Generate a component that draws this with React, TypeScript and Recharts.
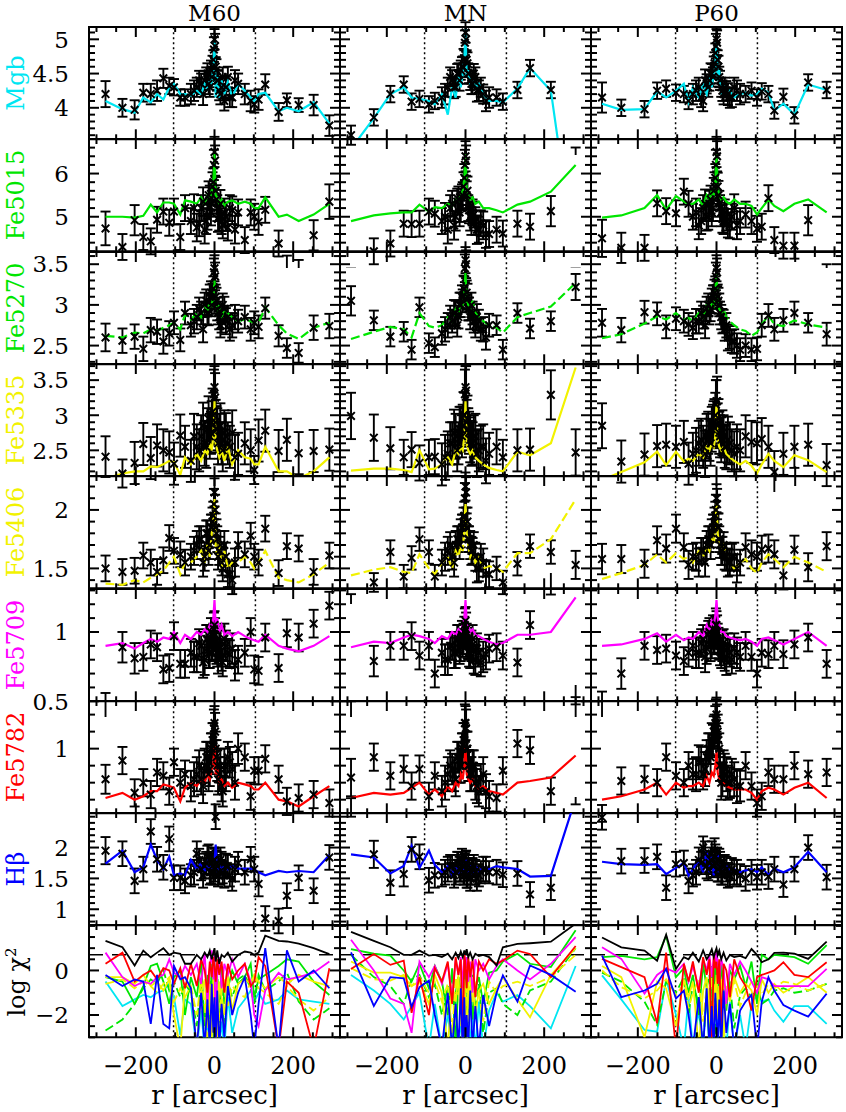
import React from 'react'
import { ComposedChart, Scatter, Line, XAxis, YAxis, ErrorBar, ReferenceLine, ReferenceArea } from 'recharts'

// page layout, in pixels
const X0 = 89
const Y0 = 27
const PW = 251
const PH = 112.3
const M = 16
const LABEL_H = 75

const X_DOMAIN = [-319, 319]
const X_TICKS = [-300, -250, -200, -150, -100, -50, 0, 50, 100, 150, 200, 250, 300]
const X_LABELS = [-200, 0, 200]
const R_EFF = 104

const MODELS = ['M60', 'MN', 'P60']
const ROW_NAMES = ['Mgb', 'Fe5015', 'Fe5270', 'Fe5335', 'Fe5406', 'Fe5709', 'Fe5782', 'Hβ']
const ROW_COLORS = ['#00e6f2', '#00e600', '#00e600', '#f2f200', '#f2f200', '#ff00ff', '#ff0000', '#0000ff']
const ROW_DASHED = [false, false, true, false, true, false, false, false]

const Y_LO = [3.54, 4.2, 2.27, 2.13, 1.33, 0.5, 0.62, 0.74, -3]
const Y_HI = [5.18, 6.8, 3.65, 3.73, 2.29, 1.31, 1.28, 2.56, 2.04]
const Y_MINOR = [0.1, 0.2, 0.1, 0.1, 0.1, 0.1, 0.1, 0.1, 0.5]
const Y_LABELS = [[4, 4.5, 5], [5, 6], [2.5, 3, 3.5], [2.5, 3, 3.5], [1.5, 2], [0.5, 1], [1], [1, 1.5, 2], [-2, 0]]
const CHI_LEVEL = 0.7

// extra bins packed into the nucleus (same radii in every column)
const CORE_R = [-52, -39, -29, -21, -15, -9, -5, -1.5, 1.5, 5, 9, 15, 21, 29, 39, 52]
const CORE_ERR_MGB = [0.15, 0.14, 0.16, 0.14, 0.15, 0.14, 0.16, 0.18, 0.18, 0.16, 0.14, 0.15, 0.14, 0.16, 0.14, 0.15]
const CORE_ERR_FE5015 = [0.32, 0.3, 0.33, 0.3, 0.32, 0.3, 0.33, 0.35, 0.35, 0.33, 0.3, 0.32, 0.3, 0.33, 0.3, 0.32]
const CORE_ERR_FE5270 = [0.15, 0.14, 0.16, 0.14, 0.15, 0.14, 0.16, 0.17, 0.17, 0.16, 0.14, 0.15, 0.14, 0.16, 0.14, 0.15]
const CORE_ERR_FE5335 = [0.32, 0.3, 0.33, 0.3, 0.32, 0.3, 0.33, 0.35, 0.35, 0.33, 0.3, 0.32, 0.3, 0.33, 0.3, 0.32]
const CORE_ERR_FE5406 = [0.12, 0.11, 0.12, 0.11, 0.12, 0.11, 0.12, 0.13, 0.13, 0.12, 0.11, 0.12, 0.11, 0.12, 0.11, 0.12]
const CORE_ERR_FE5709 = [0.11, 0.1, 0.11, 0.1, 0.11, 0.1, 0.11, 0.12, 0.12, 0.11, 0.1, 0.11, 0.1, 0.11, 0.1, 0.11]
const CORE_ERR_FE5782 = [0.1, 0.09, 0.1, 0.09, 0.1, 0.09, 0.1, 0.11, 0.11, 0.1, 0.09, 0.1, 0.09, 0.1, 0.09, 0.1]
const CORE_ERR_HB = [0.2, 0.18, 0.2, 0.18, 0.2, 0.18, 0.2, 0.2, 0.2, 0.2, 0.18, 0.2, 0.18, 0.2, 0.18, 0.2]
const CORE_ERR = [CORE_ERR_MGB, CORE_ERR_FE5015, CORE_ERR_FE5270, CORE_ERR_FE5335, CORE_ERR_FE5406, CORE_ERR_FE5709, CORE_ERR_FE5782, CORE_ERR_HB]

// ---------- M60 ----------
const M60_R = [-277, -234, -203, -181, -162, -146, -130, -115, -103, -87, -75, -60, -45, -34, -25, -18, -12, -7, -3, 0, 3, 7, 12, 18, 25, 34, 45, 60, 77, 92, 101, 112, 129, 163, 184, 214, 252, 292]

const M60_MGB = [4.2, 4.0, 3.97, 4.22, 4.2, 4.25, 4.43, 4.32, 4.3, 4.15, 4.15, 4.2, 4.3, 4.35, 4.4, 4.5, 4.3, 4.45, 4.7, 5.0, 4.6, 4.4, 4.25, 4.3, 4.1, 4.45, 4.15, 4.35, 4.2, 4.1, 4.05, 4.12, 4.34, 3.94, 4.11, 4.04, 4.04, 3.74]
const M60_MGB_ERR = [0.19, 0.13, 0.14, 0.13, 0.15, 0.15, 0.14, 0.12, 0.12, 0.12, 0.12, 0.15, 0.14, 0.15, 0.14, 0.15, 0.14, 0.15, 0.14, 0.15, 0.14, 0.15, 0.14, 0.15, 0.14, 0.15, 0.14, 0.15, 0.15, 0.15, 0.12, 0.15, 0.15, 0.13, 0.1, 0.1, 0.15, 0.15]
const M60_MGB_FIT = [4.1, 3.98, 3.93, 4.15, 4.08, 4.2, 4.12, 4.3, 4.35, 4.2, 4.2, 4.18, 4.25, 4.2, 4.35, 4.28, 4.4, 4.35, 4.6, 4.95, 4.15, 4.45, 4.15, 4.4, 4.2, 4.38, 4.15, 4.35, 4.25, 4.15, 4.1, 4.2, 4.22, 3.95, 4.0, 3.95, 4.08, 3.77]

const M60_FE5015 = [4.73, 4.3, 4.92, 4.53, 4.43, 4.93, 5.12, 4.86, 5.12, 4.53, 5.2, 4.9, 4.75, 5.2, 4.7, 5.0, 5.4, 5.3, 5.8, 6.5, 5.6, 5.2, 5.0, 4.9, 5.1, 4.75, 5.15, 5.1, 4.46, 5.1, 5.0, 4.88, 5.16, 4.38, 3.8, 3.7, 4.57, 5.35]
const M60_FE5015_ERR = [0.39, 0.3, 0.35, 0.3, 0.3, 0.3, 0.3, 0.3, 0.3, 0.3, 0.3, 0.3, 0.32, 0.3, 0.32, 0.3, 0.32, 0.3, 0.32, 0.35, 0.32, 0.3, 0.32, 0.3, 0.32, 0.3, 0.32, 0.3, 0.3, 0.3, 0.3, 0.3, 0.3, 0.3, 0.3, 0.3, 0.35, 0.4]
const M60_FE5015_FIT = [5.0, 5.0, 4.98, 5.02, 5.28, 5.1, 5.33, 5.33, 5.3, 5.05, 5.38, 5.35, 5.3, 5.45, 5.3, 5.5, 5.4, 5.6, 5.8, 6.45, 5.5, 5.45, 5.3, 5.4, 5.25, 5.35, 5.38, 5.3, 5.35, 5.3, 5.2, 5.2, 5.45, 5.0, 5.05, 4.9, 5.05, 5.3]

const M60_FE5270 = [2.6, 2.56, 2.61, 2.46, 2.69, 2.67, 2.55, 2.65, 2.78, 2.57, 2.9, 2.75, 2.85, 2.9, 3.0, 2.9, 3.1, 3.0, 3.2, 3.45, 3.1, 2.95, 2.85, 2.8, 2.95, 2.85, 2.75, 2.8, 2.85, 2.7, 2.78, 2.73, 2.96, 2.62, 2.47, 2.41, 2.72, 2.74]
const M60_FE5270_ERR = [0.17, 0.15, 0.15, 0.15, 0.15, 0.15, 0.15, 0.15, 0.14, 0.14, 0.14, 0.14, 0.15, 0.14, 0.15, 0.14, 0.15, 0.14, 0.15, 0.16, 0.15, 0.14, 0.15, 0.14, 0.15, 0.14, 0.15, 0.14, 0.14, 0.14, 0.14, 0.14, 0.13, 0.13, 0.12, 0.12, 0.15, 0.15]
const M60_FE5270_FIT = [2.62, 2.6, 2.66, 2.65, 2.7, 2.68, 2.72, 2.75, 2.78, 2.7, 2.88, 2.82, 2.9, 2.85, 3.0, 2.9, 3.05, 3.0, 3.1, 3.3, 3.0, 2.9, 3.0, 2.85, 2.95, 2.9, 2.85, 2.8, 2.82, 2.8, 2.78, 2.78, 2.97, 2.75, 2.65, 2.58, 2.72, 2.78]

const M60_FE5335 = [2.41, 2.17, 2.32, 2.59, 2.39, 2.57, 2.5, 2.47, 2.31, 2.71, 2.55, 2.35, 2.55, 2.7, 2.6, 2.8, 2.7, 2.9, 3.0, 3.4, 2.9, 2.8, 2.7, 2.6, 2.75, 2.6, 2.75, 2.45, 2.6, 2.5, 2.22, 2.64, 2.78, 2.49, 2.65, 2.46, 2.49, 2.51]
const M60_FE5335_ERR = [0.29, 0.2, 0.3, 0.3, 0.3, 0.3, 0.3, 0.3, 0.3, 0.3, 0.3, 0.3, 0.32, 0.3, 0.32, 0.3, 0.32, 0.3, 0.32, 0.3, 0.32, 0.3, 0.32, 0.3, 0.32, 0.3, 0.32, 0.3, 0.3, 0.3, 0.2, 0.3, 0.3, 0.3, 0.3, 0.3, 0.3, 0.3]
const M60_FE5335_FIT = [2.1, 2.17, 2.2, 2.2, 2.27, 2.26, 2.3, 2.35, 2.33, 2.15, 2.4, 2.3, 2.45, 2.35, 2.5, 2.45, 2.6, 2.5, 2.7, 3.2, 2.6, 2.5, 2.4, 2.5, 2.35, 2.55, 2.3, 2.5, 2.4, 2.38, 2.3, 2.3, 2.55, 2.2, 2.2, 2.1, 2.2, 2.4]

const M60_FE5406 = [1.5, 1.47, 1.48, 1.61, 1.55, 1.47, 1.57, 1.76, 1.65, 1.62, 1.55, 1.6, 1.7, 1.75, 1.6, 1.8, 1.7, 1.85, 1.95, 2.15, 1.85, 1.75, 1.65, 1.55, 1.7, 1.45, 1.4, 1.7, 1.62, 1.78, 1.6, 1.55, 1.84, 1.46, 1.69, 1.67, 1.47, 1.61]
const M60_FE5406_ERR = [0.11, 0.11, 0.11, 0.11, 0.11, 0.11, 0.11, 0.11, 0.11, 0.11, 0.11, 0.11, 0.12, 0.11, 0.12, 0.11, 0.12, 0.11, 0.12, 0.12, 0.12, 0.11, 0.12, 0.11, 0.12, 0.11, 0.12, 0.11, 0.11, 0.11, 0.11, 0.11, 0.11, 0.11, 0.11, 0.11, 0.11, 0.11]
const M60_FE5406_FIT = [1.37, 1.36, 1.4, 1.38, 1.42, 1.45, 1.48, 1.55, 1.6, 1.45, 1.55, 1.55, 1.6, 1.65, 1.55, 1.7, 1.6, 1.8, 1.9, 2.1, 1.7, 1.6, 1.75, 1.5, 1.65, 1.5, 1.55, 1.55, 1.6, 1.55, 1.5, 1.55, 1.65, 1.42, 1.4, 1.38, 1.45, 1.55]

const M60_FE5709 = [0.45, 0.89, 0.81, 0.82, 0.91, 0.89, 0.73, 0.74, 0.97, 0.77, 0.77, 0.85, 0.82, 0.9, 0.8, 0.95, 0.85, 0.9, 0.95, 1.05, 0.9, 0.85, 0.92, 0.82, 0.95, 0.85, 0.88, 0.8, 0.85, 1.0, 0.73, 0.72, 0.96, 0.74, 0.99, 0.96, 1.06, 1.19]
const M60_FE5709_ERR = [0.11, 0.11, 0.11, 0.1, 0.1, 0.1, 0.1, 0.1, 0.1, 0.1, 0.1, 0.1, 0.11, 0.1, 0.11, 0.1, 0.11, 0.1, 0.11, 0.1, 0.11, 0.1, 0.11, 0.1, 0.11, 0.1, 0.11, 0.1, 0.1, 0.1, 0.1, 0.1, 0.1, 0.1, 0.1, 0.1, 0.1, 0.1]
const M60_FE5709_FIT = [0.9, 0.92, 0.88, 0.92, 0.95, 0.93, 0.96, 0.95, 1.0, 0.92, 0.98, 0.95, 1.0, 0.98, 1.02, 1.0, 1.05, 1.03, 1.1, 1.23, 1.05, 1.1, 1.0, 1.05, 0.98, 1.0, 0.97, 1.0, 0.97, 0.95, 0.94, 0.93, 0.98, 0.9, 0.88, 0.86, 0.9, 0.97]

const M60_FE5782 = [0.82, 0.93, 0.74, 0.8, 0.73, 0.86, 0.84, 0.75, 0.92, 0.8, 0.85, 0.78, 0.85, 0.82, 0.9, 0.95, 0.88, 1.0, 1.05, 1.15, 1.0, 0.9, 0.85, 0.78, 0.9, 0.95, 0.88, 1.0, 0.95, 0.72, 0.87, 0.87, 0.94, 0.82, 0.69, 0.71, 0.73, 0.68]
const M60_FE5782_ERR = [0.085, 0.08, 0.08, 0.08, 0.08, 0.08, 0.08, 0.08, 0.08, 0.08, 0.08, 0.09, 0.1, 0.09, 0.1, 0.09, 0.1, 0.09, 0.1, 0.1, 0.1, 0.09, 0.1, 0.09, 0.1, 0.09, 0.1, 0.09, 0.08, 0.08, 0.08, 0.08, 0.08, 0.08, 0.08, 0.08, 0.08, 0.08]
const M60_FE5782_FIT = [0.71, 0.74, 0.7, 0.72, 0.75, 0.75, 0.79, 0.78, 0.77, 0.69, 0.77, 0.8, 0.78, 0.82, 0.8, 0.85, 0.82, 0.88, 0.9, 1.02, 0.85, 0.88, 0.8, 0.82, 0.78, 0.8, 0.77, 0.8, 0.79, 0.78, 0.76, 0.76, 0.8, 0.7, 0.69, 0.66, 0.72, 0.78]

const M60_HB = [1.95, 1.9, 1.46, 1.65, 2.26, 1.81, 1.68, 2.14, 1.51, 1.51, 1.46, 1.55, 1.9, 1.65, 1.7, 1.85, 1.6, 1.75, 1.6, 1.8, 2.5, 1.7, 1.6, 1.75, 1.55, 1.7, 1.5, 1.75, 1.6, 1.81, 1.65, 1.41, 0.85, 0.81, 1.22, 1.51, 1.3, 1.84]
const M60_HB_ERR = [0.22, 0.2, 0.2, 0.2, 0.2, 0.2, 0.2, 0.2, 0.2, 0.2, 0.2, 0.18, 0.2, 0.18, 0.2, 0.18, 0.2, 0.18, 0.2, 0.18, 0.2, 0.18, 0.2, 0.18, 0.2, 0.18, 0.2, 0.18, 0.2, 0.2, 0.2, 0.2, 0.2, 0.2, 0.2, 0.2, 0.2, 0.2]
const M60_HB_FIT = [1.74, 1.95, 1.6, 1.68, 2.05, 1.8, 1.65, 1.85, 1.55, 1.58, 1.55, 1.8, 1.65, 1.75, 1.6, 1.75, 1.6, 1.75, 1.6, 1.75, 2.05, 1.6, 1.75, 1.6, 1.72, 1.65, 1.7, 1.66, 1.66, 1.66, 1.64, 1.6, 1.55, 1.62, 1.6, 1.62, 1.6, 1.88]

const M60_CORE_MGB = [4.25, 4.4, 4.2, 4.45, 4.35, 4.55, 4.6, 4.85, 4.9, 4.55, 4.4, 4.2, 4.45, 4.3, 4.15, 4.4]
const M60_CORE_FE5015 = [5.2, 4.85, 5.35, 4.9, 5.5, 5.1, 5.7, 6.2, 6.3, 5.4, 4.95, 5.3, 4.8, 5.0, 5.2, 4.7]
const M60_CORE_FE5270 = [2.8, 2.95, 2.7, 3.05, 2.9, 3.15, 3.1, 3.4, 3.35, 3.05, 2.9, 2.75, 3.0, 2.8, 2.7, 2.85]
const M60_CORE_FE5335 = [2.7, 2.5, 2.85, 2.55, 2.95, 2.75, 3.05, 3.3, 3.25, 2.8, 2.6, 2.85, 2.5, 2.7, 2.55, 2.4]
const M60_CORE_FE5406 = [1.65, 1.75, 1.55, 1.8, 1.65, 1.85, 1.9, 2.05, 2.0, 1.8, 1.6, 1.7, 1.5, 1.6, 1.45, 1.55]
const M60_CORE_FE5709 = [0.82, 0.92, 0.78, 0.95, 0.85, 1.0, 0.9, 1.02, 0.98, 0.88, 0.8, 0.93, 0.78, 0.9, 0.84, 0.76]
const M60_CORE_FE5782 = [0.82, 0.9, 0.78, 0.95, 0.85, 1.0, 1.05, 1.12, 1.1, 0.95, 0.82, 0.9, 0.75, 0.85, 0.92, 0.8]
const M60_CORE_HB = [1.6, 1.8, 1.55, 1.75, 1.85, 1.6, 1.7, 1.8, 1.65, 1.75, 1.55, 1.8, 1.6, 1.7, 1.55, 1.65]

const M60_CHI_TOT = [1.33, 1.04, 0.22, 0.89, 0.59, 0.8, 1.0, 0.7, 0.8, 0.75, 0.3, 0.3, 0.7, 0.5, 0.8, 0.6, 0.9, 0.5, 0.8, 1.0, 0.4, 0.9, 0.3, 0.7, 0.6, 0.8, 0.4, 0.7, 0.85, 0.8, 0.7, 0.8, 1.56, 1.33, 1.3, 1.2, 1.0, 0.73]
const M60_CHI_MGB = [-0.5, -1.6, -1.3, -1.1, -1.2, -1.0, -0.9, -0.6, -1.2, -2.9, -1.3, -1.5, -3.5, -1.8, -3.5, -2.2, -3.5, -1.4, -3.5, -2.0, -3.5, -1.6, -3.5, -2.3, -3.5, -1.2, -2.8, -1.7, -1.3, -0.9, -1.4, -1.0, -1.5, -1.3, -0.9, -1.3, -1.4, -1.5]
const M60_CHI_FE5015 = [-0.3, -0.5, -1.5, -0.7, 0.2, 0.3, -0.5, -1.5, -0.3, 0.0, -2.0, -0.3, -1.2, 0.4, -2.5, -0.2, -3.5, 0.3, -1.0, 0.5, -2.0, -0.5, -3.2, 0.2, -1.5, -0.8, 0.0, -0.6, -0.3, 0.3, -1.2, -0.4, -0.2, 0.2, 0.5, 0.4, -0.5, -1.1]
const M60_CHI_FE5270 = [-2.7, -2.2, -1.5, -0.8, -0.4, -0.6, 0.0, -0.9, -0.5, -1.2, -0.6, -1.0, -2.5, -0.4, -3.5, -1.2, -0.3, -2.0, -0.6, -1.0, -3.5, -0.2, -1.5, -0.8, -2.8, -0.5, -1.2, -0.4, -0.2, -0.8, -1.5, -0.2, -0.9, -0.5, -0.1, -1.4, -2.2, -1.7]
const M60_CHI_FE5335 = [-0.3, -0.3, -0.6, -0.2, -0.7, -0.5, -0.9, -0.4, -2.0, -3.5, -0.6, -0.8, -3.5, -1.0, -0.4, -2.5, -0.7, -3.5, -0.3, -1.5, -0.6, -3.2, -0.5, -1.2, -2.0, -0.2, -1.8, -0.6, -0.4, -0.6, -0.2, -0.5, -0.8, -0.3, -0.6, -0.2, -0.5, -0.7]
const M60_CHI_FE5406 = [-0.6, -0.4, -0.8, -0.5, -0.7, -1.0, -0.6, -0.3, -1.4, -0.8, -1.2, -0.7, -2.0, -0.4, -1.5, -3.5, -0.6, -1.1, -2.3, -0.5, -1.3, -0.3, -2.6, -0.9, -0.4, -1.6, -0.7, -1.0, -1.2, -0.5, -0.2, -0.8, -1.0, -1.5, -0.7, -1.3, -1.8, -1.2]
const M60_CHI_FE5709 = [0.8, -0.3, -0.7, -0.5, -0.6, -0.3, -0.2, 0.5, -0.1, -0.3, 0.2, -0.2, 0.3, -0.6, 0.8, -1.5, 0.1, 0.9, -0.4, 0.7, -3.5, 0.2, 0.6, -0.8, 0.3, -0.2, 0.5, -0.3, 0.3, -0.5, -2.0, -2.5, -0.9, -0.1, -0.4, -0.3, -0.1, 0.4]
const M60_CHI_FE5782 = [0.3, 0.8, -0.5, -0.2, 0.0, -0.4, 0.1, 0.0, -0.6, 0.1, -0.8, 0.3, -0.7, 0.5, 0.0, -1.0, 0.4, -0.3, 0.6, 0.2, -0.5, 0.5, -0.2, 0.4, -1.0, 0.3, -0.4, 0.0, 0.3, -0.7, -0.5, 0.6, 0.2, -3.5, -0.5, -1.0, -3.5, 0.1]
const M60_CHI_HB = [-0.2, -0.7, -0.4, -0.5, -2.4, -0.2, -2.4, -2.6, 0.2, -0.4, -0.3, -0.8, -3.5, -1.0, -3.5, -1.3, -3.5, -0.6, -2.8, -1.2, -3.5, -0.9, -3.5, -1.5, -3.0, -0.7, -2.0, -1.0, -0.3, -2.0, -3.5, -1.5, 1.0, -3.5, 0.9, -0.5, 0.0, -0.8]

// ---------- MN ----------
const MN_R = [-291, -233, -191, -157, -137, -117, -93, -78, -60, -45, -34, -25, -18, -12, -7, -3, 0, 3, 7, 12, 18, 25, 34, 45, 60, 79, 95, 132, 164, 217, 280]

const MN_MGB = [3.6, 3.86, 4.2, 4.34, 4.09, 4.13, 4.05, 4.1, 4.15, 4.3, 4.4, 4.3, 4.5, 4.55, 4.6, 4.7, 5.1, 4.7, 4.5, 4.4, 4.35, 4.45, 4.25, 4.2, 4.15, 4.15, 4.09, 4.26, 4.58, 4.26, 3.3]
const MN_MGB_ERR = [0.14, 0.12, 0.12, 0.12, 0.12, 0.12, 0.12, 0.12, 0.15, 0.14, 0.15, 0.14, 0.15, 0.14, 0.15, 0.14, 0.15, 0.14, 0.15, 0.14, 0.15, 0.14, 0.15, 0.14, 0.15, 0.12, 0.12, 0.12, 0.12, 0.12, 0.12]
const MN_MGB_FIT = [3.4, 3.85, 4.2, 4.3, 4.15, 4.13, 4.1, 4.05, 4.2, 3.9, 4.3, 4.15, 4.45, 4.3, 4.5, 4.7, 5.15, 4.45, 4.55, 4.35, 4.4, 4.3, 4.35, 4.2, 4.1, 4.1, 4.08, 4.28, 4.58, 4.25, 1.7]

const MN_FE5015 = [3.5, 4.2, 4.38, 4.84, 4.83, 4.84, 5.12, 5.07, 4.9, 4.7, 5.3, 5.0, 5.4, 5.2, 5.5, 5.9, 6.4, 5.5, 5.2, 5.0, 5.1, 4.9, 4.7, 4.8, 4.6, 4.7, 4.61, 4.84, 4.77, 5.13, 3.5]
const MN_FE5015_ERR = [0.3, 0.3, 0.3, 0.3, 0.3, 0.3, 0.3, 0.3, 0.3, 0.32, 0.3, 0.32, 0.3, 0.32, 0.3, 0.32, 0.35, 0.32, 0.3, 0.32, 0.3, 0.32, 0.3, 0.32, 0.3, 0.3, 0.3, 0.3, 0.3, 0.35, 0.3]
const MN_FE5015_FIT = [4.9, 5.03, 5.08, 5.1, 5.1, 5.28, 5.12, 5.22, 5.2, 5.3, 5.25, 5.4, 5.35, 5.5, 5.6, 5.9, 6.45, 5.6, 5.5, 5.4, 5.45, 5.3, 5.35, 5.2, 5.2, 5.15, 5.1, 5.28, 5.35, 5.58, 6.2]

const MN_FE5270 = [3.05, 2.81, 2.61, 2.67, 2.45, 2.97, 2.53, 2.48, 2.65, 2.75, 2.8, 2.9, 2.85, 3.0, 3.05, 3.2, 3.55, 3.15, 2.95, 2.85, 2.9, 2.75, 2.8, 2.7, 2.75, 2.75, 2.45, 2.9, 2.71, 2.8, 3.22]
const MN_FE5270_ERR = [0.18, 0.12, 0.12, 0.12, 0.12, 0.12, 0.12, 0.12, 0.14, 0.15, 0.14, 0.15, 0.14, 0.15, 0.14, 0.15, 0.16, 0.15, 0.14, 0.15, 0.14, 0.15, 0.14, 0.15, 0.14, 0.12, 0.12, 0.12, 0.12, 0.12, 0.16]
const MN_FE5270_FIT = [2.58, 2.67, 2.73, 2.7, 2.6, 2.9, 2.74, 2.72, 2.75, 2.85, 2.8, 2.95, 2.9, 3.05, 3.0, 3.15, 3.4, 3.05, 3.0, 2.95, 3.05, 2.9, 2.85, 2.8, 2.75, 2.72, 2.66, 2.85, 2.9, 2.98, 3.27]

const MN_FE5335 = [2.99, 2.68, 2.53, 2.4, 2.51, 2.32, 2.4, 2.41, 2.3, 2.45, 2.6, 2.7, 2.6, 2.8, 2.85, 3.0, 3.4, 2.9, 2.8, 2.65, 2.6, 2.7, 2.5, 2.55, 2.45, 2.55, 2.4, 2.5, 2.51, 3.29, 2.47]
const MN_FE5335_ERR = [0.33, 0.33, 0.3, 0.25, 0.25, 0.25, 0.25, 0.25, 0.3, 0.32, 0.3, 0.32, 0.3, 0.32, 0.3, 0.32, 0.3, 0.32, 0.3, 0.32, 0.3, 0.32, 0.3, 0.32, 0.3, 0.25, 0.25, 0.3, 0.3, 0.35, 0.33]
const MN_FE5335_FIT = [2.21, 2.24, 2.24, 2.22, 2.19, 2.5, 2.23, 2.24, 2.3, 2.4, 2.3, 2.5, 2.45, 2.55, 2.5, 2.7, 3.2, 2.6, 2.5, 2.45, 2.5, 2.4, 2.35, 2.3, 2.25, 2.22, 2.2, 2.48, 2.43, 2.6, 3.68]

const MN_FE5406 = [1.2, 1.38, 1.64, 1.43, 1.59, 1.75, 1.64, 1.43, 1.55, 1.65, 1.6, 1.7, 1.75, 1.8, 1.85, 1.95, 2.2, 1.85, 1.75, 1.7, 1.65, 1.6, 1.5, 1.55, 1.45, 1.5, 1.38, 1.54, 1.69, 1.64, 1.53]
const MN_FE5406_ERR = [0.08, 0.08, 0.1, 0.1, 0.1, 0.1, 0.1, 0.1, 0.11, 0.12, 0.11, 0.12, 0.11, 0.12, 0.11, 0.12, 0.12, 0.12, 0.11, 0.12, 0.11, 0.12, 0.11, 0.12, 0.11, 0.1, 0.1, 0.1, 0.1, 0.1, 0.12]
const MN_FE5406_FIT = [1.44, 1.49, 1.51, 1.47, 1.46, 1.62, 1.5, 1.45, 1.55, 1.6, 1.5, 1.65, 1.6, 1.7, 1.65, 1.85, 2.06, 1.8, 1.7, 1.6, 1.65, 1.55, 1.6, 1.5, 1.52, 1.5, 1.47, 1.63, 1.63, 1.75, 2.09]

const MN_FE5709 = [0.4, 0.79, 0.9, 0.9, 0.97, 0.83, 0.9, 0.7, 0.85, 0.8, 0.9, 0.85, 0.95, 0.9, 0.92, 1.0, 1.08, 0.95, 0.9, 0.85, 0.95, 0.8, 0.85, 0.82, 0.88, 0.89, 0.83, 0.78, 1.05, 1.4, 0.45]
const MN_FE5709_ERR = [0.1, 0.11, 0.1, 0.1, 0.1, 0.1, 0.1, 0.1, 0.1, 0.11, 0.1, 0.11, 0.1, 0.11, 0.1, 0.11, 0.1, 0.11, 0.1, 0.11, 0.1, 0.11, 0.1, 0.11, 0.1, 0.1, 0.1, 0.1, 0.1, 0.13, 0.08]
const MN_FE5709_FIT = [0.89, 0.93, 0.92, 0.96, 0.98, 0.97, 0.95, 0.92, 0.97, 0.95, 1.0, 0.98, 1.02, 1.0, 1.05, 1.1, 1.23, 1.08, 1.05, 1.0, 1.02, 0.98, 0.97, 0.95, 0.93, 0.91, 0.92, 0.98, 0.98, 1.0, 1.25]

const MN_FE5782 = [0.83, 0.95, 0.84, 0.88, 0.78, 0.88, 0.72, 0.84, 0.75, 0.85, 0.88, 0.82, 0.95, 0.9, 1.0, 1.05, 1.15, 1.0, 0.9, 0.85, 0.9, 0.8, 0.75, 0.85, 0.72, 0.71, 0.87, 1.03, 0.99, 0.75, 1.36]
const MN_FE5782_ERR = [0.11, 0.08, 0.08, 0.08, 0.08, 0.08, 0.08, 0.08, 0.09, 0.1, 0.09, 0.1, 0.09, 0.1, 0.09, 0.1, 0.1, 0.1, 0.09, 0.1, 0.09, 0.1, 0.09, 0.1, 0.09, 0.08, 0.08, 0.08, 0.08, 0.08, 0.1]
const MN_FE5782_FIT = [0.71, 0.74, 0.73, 0.74, 0.77, 0.8, 0.73, 0.76, 0.72, 0.78, 0.75, 0.8, 0.78, 0.85, 0.82, 0.9, 1.01, 0.85, 0.82, 0.8, 0.82, 0.78, 0.76, 0.78, 0.75, 0.74, 0.73, 0.8, 0.81, 0.83, 0.96]

const MN_HB = [2.65, 1.89, 1.43, 1.57, 1.97, 1.85, 1.47, 1.55, 1.55, 1.65, 1.7, 1.6, 1.75, 1.65, 1.7, 1.6, 1.75, 1.55, 1.7, 1.5, 1.65, 1.6, 1.55, 1.65, 1.6, 1.6, 1.56, 1.58, 1.24, 1.35, 2.9]
const MN_HB_ERR = [0.15, 0.22, 0.2, 0.2, 0.2, 0.2, 0.2, 0.2, 0.18, 0.2, 0.18, 0.2, 0.18, 0.2, 0.18, 0.2, 0.18, 0.2, 0.18, 0.2, 0.18, 0.2, 0.18, 0.2, 0.18, 0.2, 0.2, 0.2, 0.2, 0.2, 0.2]
const MN_HB_FIT = [1.89, 1.84, 1.58, 1.7, 2.03, 1.67, 1.95, 1.72, 1.6, 1.7, 1.55, 1.75, 1.6, 1.72, 1.58, 1.75, 1.62, 1.8, 1.6, 1.7, 1.58, 1.7, 1.62, 1.68, 1.65, 1.7, 1.68, 1.65, 1.53, 1.54, 2.8]

const MN_CORE_MGB = [4.2, 4.45, 4.3, 4.5, 4.4, 4.6, 4.7, 4.95, 5.0, 4.65, 4.5, 4.35, 4.5, 4.25, 4.3, 4.1]
const MN_CORE_FE5015 = [5.0, 5.2, 4.8, 5.35, 5.1, 5.45, 5.7, 6.2, 6.3, 5.6, 5.15, 4.9, 5.05, 4.7, 4.85, 4.6]
const MN_CORE_FE5270 = [2.7, 2.85, 2.9, 2.75, 3.0, 3.1, 3.2, 3.45, 3.5, 3.1, 2.95, 3.0, 2.8, 2.85, 2.7, 2.6]
const MN_CORE_FE5335 = [2.4, 2.6, 2.75, 2.5, 2.8, 2.7, 3.0, 3.3, 3.35, 2.95, 2.75, 2.6, 2.7, 2.45, 2.55, 2.35]
const MN_CORE_FE5406 = [1.6, 1.7, 1.55, 1.75, 1.7, 1.85, 1.9, 2.1, 2.15, 1.9, 1.75, 1.65, 1.7, 1.5, 1.6, 1.45]
const MN_CORE_FE5709 = [0.8, 0.9, 0.85, 0.95, 0.88, 0.98, 0.95, 1.05, 1.02, 0.92, 0.85, 0.9, 0.8, 0.88, 0.78, 0.84]
const MN_CORE_FE5782 = [0.8, 0.9, 0.85, 0.95, 0.9, 1.0, 1.05, 1.15, 1.12, 1.0, 0.9, 0.85, 0.9, 0.78, 0.82, 0.75]
const MN_CORE_HB = [1.6, 1.7, 1.55, 1.75, 1.65, 1.8, 1.6, 1.7, 1.75, 1.55, 1.65, 1.6, 1.7, 1.5, 1.6, 1.65]

const MN_CHI_TOT = [1.73, 1.33, 1.04, 0.7, 0.7, 0.89, 0.67, 0.7, 0.6, 0.75, 0.5, 0.8, 0.55, 0.85, 0.6, 0.9, 0.7, 0.95, 0.6, 0.8, 0.5, 0.75, 0.65, 0.7, 0.6, 0.22, 1.04, 1.19, 1.22, 1.29, 2.1]
const MN_CHI_MGB = [-0.2, -0.9, -1.5, -2.2, -1.6, -1.0, -3.5, -1.5, -3.5, -2.0, -3.5, -1.3, -3.5, -2.2, -3.5, -1.0, -2.5, -3.5, -1.2, -3.5, -2.0, -3.5, -1.4, -3.5, -1.8, -1.0, -1.4, -1.1, -1.6, -2.6, 0.2]
const MN_CHI_FE5015 = [0.96, 0.75, 0.67, 0.0, -0.5, 0.3, -0.8, 0.2, -0.5, -2.0, 0.1, -3.5, -0.3, -1.0, -2.5, 0.2, -0.4, -3.5, -0.6, 0.0, -2.2, -0.8, -0.3, -1.5, -0.1, 0.0, 0.4, 0.75, 0.3, 0.15, 1.8]
const MN_CHI_FE5270 = [0.7, -0.3, -0.7, -1.5, -0.4, -0.2, -1.2, -0.6, -2.0, -0.7, -3.5, -1.0, -0.3, -2.2, -0.8, -3.5, -1.2, -0.5, -2.5, -0.9, -0.2, -1.8, -0.6, -2.8, -1.0, -0.8, -1.5, -2.0, -0.9, -0.5, 1.0]
const MN_CHI_FE5335 = [0.4, -0.1, -0.1, -0.3, -0.7, -0.5, -1.5, -0.2, -1.0, -3.5, -0.6, -1.4, -0.2, -2.5, -0.8, -0.4, -1.6, -3.5, -0.5, -1.2, -0.3, -2.0, -0.9, -0.6, -1.5, -0.8, -0.3, -1.3, -2.1, -0.2, 1.0]
const MN_CHI_FE5406 = [0.1, -0.4, -0.45, -0.2, -0.7, -0.3, -1.0, -0.5, -1.4, -0.6, -2.8, -0.3, -1.1, -0.7, -2.0, -0.4, -1.3, -0.8, -3.5, -0.2, -1.5, -0.6, -1.0, -2.3, -0.5, -1.0, -0.7, -0.5, -0.7, -0.3, 0.7]
const MN_CHI_FE5709 = [1.38, 0.0, -1.26, -1.5, -2.8, 0.4, -0.3, 0.2, -0.6, 0.3, -1.2, 0.5, -0.2, 0.6, -0.8, 0.7, 0.1, 0.6, -0.5, 0.4, -1.0, 0.5, 0.0, 0.3, -0.4, 0.2, 0.5, 0.0, -0.4, 0.3, 1.5]
const MN_CHI_FE5782 = [0.07, 0.74, 0.25, 0.44, -1.9, -0.3, -2.0, 0.1, -0.5, 0.4, -1.5, 0.6, -0.2, 0.5, -3.5, 0.7, 0.3, -0.8, 0.6, -0.3, 0.5, -1.2, 0.4, 0.0, 0.5, 0.3, 0.45, 0.89, 0.74, -0.3, 1.1]
const MN_CHI_HB = [0.81, -1.59, -0.3, -0.35, -1.63, -0.75, -0.45, -2.0, -3.5, -1.0, -3.5, -1.5, -3.5, -0.8, -3.5, -1.2, -3.5, -2.0, -3.5, -0.9, -3.5, -1.6, -3.5, -1.1, -2.5, -1.0, -0.22, -1.4, 0.22, -0.2, -0.96]

// ---------- P60 ----------
const P60_R = [-291, -242, -183, -151, -128, -103, -83, -71, -60, -45, -34, -25, -18, -12, -7, -3, 0, 3, 7, 12, 18, 25, 34, 45, 60, 74, 89, 103, 115, 132, 147, 170, 198, 233, 280]

const P60_MGB = [4.15, 4.0, 3.98, 4.25, 4.28, 4.22, 4.2, 4.1, 4.2, 4.3, 4.1, 4.35, 4.4, 4.5, 4.6, 4.8, 5.0, 4.7, 4.45, 4.3, 4.2, 4.25, 4.15, 4.3, 4.2, 4.2, 4.25, 4.15, 4.24, 4.2, 3.96, 4.16, 3.89, 4.37, 4.26]
const P60_MGB_ERR = [0.22, 0.12, 0.12, 0.12, 0.12, 0.12, 0.12, 0.12, 0.15, 0.14, 0.15, 0.14, 0.15, 0.14, 0.15, 0.14, 0.15, 0.14, 0.15, 0.14, 0.15, 0.14, 0.15, 0.14, 0.15, 0.12, 0.12, 0.12, 0.12, 0.12, 0.12, 0.12, 0.12, 0.12, 0.12]
const P60_MGB_FIT = [4.06, 3.97, 3.98, 4.24, 4.15, 4.25, 4.35, 4.08, 4.3, 4.15, 4.35, 4.2, 4.4, 4.3, 4.5, 4.6, 4.96, 4.4, 4.55, 4.2, 4.35, 4.2, 4.25, 4.15, 4.2, 4.22, 4.18, 4.2, 4.28, 4.22, 3.96, 4.06, 3.9, 4.34, 4.26]

const P60_FE5015 = [4.5, 4.28, 4.28, 5.31, 5.13, 5.08, 5.58, 5.3, 5.0, 4.8, 5.2, 5.0, 5.3, 5.1, 5.6, 5.9, 6.5, 5.7, 5.3, 5.1, 4.9, 5.0, 4.8, 5.2, 4.9, 5.05, 4.9, 4.72, 4.77, 5.43, 4.46, 4.33, 4.33, 4.92, 3.6]
const P60_FE5015_ERR = [0.43, 0.35, 0.3, 0.3, 0.3, 0.3, 0.3, 0.3, 0.3, 0.32, 0.3, 0.32, 0.3, 0.32, 0.3, 0.32, 0.35, 0.32, 0.3, 0.32, 0.3, 0.32, 0.3, 0.32, 0.3, 0.3, 0.3, 0.3, 0.3, 0.3, 0.3, 0.3, 0.3, 0.35, 0.3]
const P60_FE5015_FIT = [4.98, 5.03, 5.2, 5.5, 5.16, 5.48, 5.35, 5.3, 5.3, 5.4, 5.25, 5.5, 5.4, 5.6, 5.5, 5.8, 6.45, 5.7, 5.5, 5.4, 5.45, 5.35, 5.3, 5.4, 5.3, 5.3, 5.25, 5.05, 5.2, 5.4, 5.25, 5.13, 5.3, 5.4, 5.1]

const P60_FE5270 = [2.78, 2.69, 2.91, 2.89, 2.73, 2.83, 2.8, 2.76, 2.72, 2.8, 2.85, 2.95, 2.9, 3.05, 3.1, 3.2, 3.45, 3.1, 3.0, 2.85, 2.8, 2.75, 2.6, 2.55, 2.45, 2.5, 2.45, 2.46, 2.75, 2.87, 2.7, 2.81, 2.9, 2.78, 2.64]
const P60_FE5270_ERR = [0.17, 0.15, 0.14, 0.14, 0.14, 0.14, 0.14, 0.14, 0.14, 0.15, 0.14, 0.15, 0.14, 0.15, 0.14, 0.15, 0.16, 0.15, 0.14, 0.15, 0.14, 0.15, 0.14, 0.15, 0.14, 0.14, 0.14, 0.14, 0.14, 0.14, 0.14, 0.14, 0.14, 0.12, 0.14]
const P60_FE5270_FIT = [2.59, 2.64, 2.77, 2.86, 2.82, 2.9, 2.82, 2.84, 2.8, 2.9, 2.85, 3.0, 2.9, 3.05, 3.0, 3.15, 3.38, 3.05, 2.95, 2.9, 2.95, 2.85, 2.8, 2.75, 2.7, 2.68, 2.62, 2.66, 2.76, 2.87, 2.76, 2.74, 2.81, 2.76, 2.72]

const P60_FE5335 = [2.85, 2.34, 2.44, 2.56, 2.58, 2.55, 2.62, 2.31, 2.45, 2.6, 2.55, 2.7, 2.65, 2.8, 2.9, 3.0, 3.2, 2.85, 2.75, 2.65, 2.7, 2.55, 2.6, 2.45, 2.5, 2.7, 2.62, 2.6, 2.66, 2.55, 2.19, 2.45, 2.55, 2.58, 2.29]
const P60_FE5335_ERR = [0.32, 0.3, 0.3, 0.3, 0.3, 0.3, 0.3, 0.3, 0.3, 0.32, 0.3, 0.32, 0.3, 0.32, 0.3, 0.32, 0.3, 0.32, 0.3, 0.32, 0.3, 0.32, 0.3, 0.32, 0.3, 0.3, 0.3, 0.3, 0.3, 0.3, 0.3, 0.3, 0.3, 0.3, 0.3]
const P60_FE5335_FIT = [2.08, 2.19, 2.33, 2.48, 2.29, 2.48, 2.34, 2.38, 2.35, 2.45, 2.4, 2.55, 2.5, 2.6, 2.55, 2.7, 3.19, 2.65, 2.55, 2.5, 2.55, 2.45, 2.4, 2.35, 2.3, 2.35, 2.28, 2.17, 2.3, 2.45, 2.35, 2.26, 2.43, 2.36, 2.19]

const P60_FE5406 = [1.58, 1.58, 1.54, 1.74, 1.67, 1.84, 1.68, 1.53, 1.6, 1.55, 1.65, 1.7, 1.75, 1.8, 1.85, 1.95, 2.1, 1.85, 1.75, 1.65, 1.7, 1.6, 1.55, 1.6, 1.55, 1.68, 1.62, 1.6, 1.66, 1.67, 1.62, 1.44, 1.66, 1.51, 1.69]
const P60_FE5406_ERR = [0.13, 0.12, 0.12, 0.12, 0.12, 0.12, 0.12, 0.12, 0.11, 0.12, 0.11, 0.12, 0.11, 0.12, 0.11, 0.12, 0.12, 0.12, 0.11, 0.12, 0.11, 0.12, 0.11, 0.12, 0.11, 0.12, 0.12, 0.12, 0.12, 0.12, 0.12, 0.12, 0.12, 0.12, 0.12]
const P60_FE5406_FIT = [1.41, 1.46, 1.53, 1.62, 1.55, 1.63, 1.58, 1.6, 1.55, 1.65, 1.6, 1.7, 1.65, 1.75, 1.7, 1.85, 2.06, 1.8, 1.7, 1.65, 1.7, 1.6, 1.55, 1.5, 1.55, 1.58, 1.5, 1.46, 1.55, 1.62, 1.58, 1.51, 1.6, 1.55, 1.47]

const P60_FE5709 = [0.45, 0.7, 0.9, 0.87, 0.88, 0.83, 0.79, 0.85, 0.9, 0.85, 0.95, 0.88, 1.0, 0.92, 0.95, 1.0, 1.05, 0.95, 0.9, 0.85, 0.92, 0.8, 0.85, 0.88, 0.82, 0.9, 0.82, 0.7, 0.85, 0.84, 0.9, 0.84, 0.91, 0.96, 0.77]
const P60_FE5709_ERR = [0.12, 0.11, 0.1, 0.1, 0.1, 0.1, 0.1, 0.1, 0.1, 0.11, 0.1, 0.11, 0.1, 0.11, 0.1, 0.11, 0.1, 0.11, 0.1, 0.11, 0.1, 0.11, 0.1, 0.11, 0.1, 0.1, 0.1, 0.1, 0.1, 0.1, 0.1, 0.1, 0.1, 0.1, 0.1]
const P60_FE5709_FIT = [0.9, 0.91, 0.95, 0.99, 0.93, 0.98, 0.94, 0.96, 0.95, 1.0, 0.97, 1.05, 1.0, 1.08, 1.05, 1.12, 1.23, 1.1, 1.05, 1.0, 1.0, 0.97, 0.96, 0.95, 0.94, 0.95, 0.93, 0.9, 0.95, 0.96, 0.94, 0.91, 0.95, 1.0, 0.9]

const P60_FE5782 = [0.52, 0.81, 0.82, 0.8, 0.95, 0.84, 0.8, 0.9, 0.85, 0.92, 0.85, 0.95, 1.0, 1.05, 1.1, 1.15, 1.2, 1.1, 1.0, 0.8, 0.9, 0.85, 0.8, 0.82, 0.78, 0.9, 0.78, 0.68, 0.72, 0.86, 0.82, 0.82, 0.9, 0.85, 0.86]
const P60_FE5782_ERR = [0.05, 0.08, 0.08, 0.08, 0.08, 0.08, 0.08, 0.08, 0.09, 0.1, 0.09, 0.1, 0.09, 0.1, 0.09, 0.1, 0.1, 0.1, 0.09, 0.1, 0.09, 0.1, 0.09, 0.1, 0.09, 0.08, 0.08, 0.08, 0.08, 0.08, 0.08, 0.08, 0.08, 0.08, 0.08]
const P60_FE5782_FIT = [0.7, 0.72, 0.76, 0.8, 0.73, 0.8, 0.77, 0.78, 0.78, 0.8, 0.78, 0.84, 0.8, 0.86, 0.84, 0.9, 0.98, 0.86, 0.82, 0.8, 0.8, 0.78, 0.77, 0.76, 0.76, 0.76, 0.74, 0.7, 0.75, 0.77, 0.76, 0.73, 0.77, 0.8, 0.71]

const P60_HB = [2.49, 1.78, 1.79, 1.85, 1.35, 1.73, 1.75, 1.46, 1.55, 1.8, 2.0, 1.7, 1.75, 1.9, 1.7, 1.85, 1.75, 1.65, 1.8, 1.6, 1.7, 1.65, 1.55, 1.6, 1.55, 1.5, 1.6, 1.52, 1.6, 1.53, 1.65, 1.4, 1.65, 2.0, 1.52]
const P60_HB_ERR = [0.2, 0.2, 0.2, 0.2, 0.2, 0.2, 0.2, 0.2, 0.18, 0.2, 0.18, 0.2, 0.18, 0.2, 0.18, 0.2, 0.18, 0.2, 0.18, 0.2, 0.18, 0.2, 0.18, 0.2, 0.18, 0.2, 0.2, 0.2, 0.2, 0.2, 0.2, 0.2, 0.2, 0.2, 0.2]
const P60_HB_FIT = [1.77, 1.73, 1.72, 1.73, 1.57, 1.67, 1.75, 1.55, 1.65, 1.8, 1.6, 1.95, 1.6, 1.85, 1.55, 1.8, 1.6, 1.9, 1.6, 1.75, 1.6, 1.7, 1.62, 1.65, 1.6, 1.63, 1.65, 1.6, 1.68, 1.55, 1.66, 1.6, 1.68, 1.93, 1.6]

const P60_CORE_MGB = [4.25, 4.15, 4.4, 4.3, 4.5, 4.45, 4.65, 4.9, 4.95, 4.6, 4.4, 4.25, 4.3, 4.2, 4.15, 4.25]
const P60_CORE_FE5015 = [5.1, 4.9, 5.3, 5.0, 5.4, 5.2, 5.7, 6.2, 6.4, 5.5, 5.2, 4.95, 5.1, 4.85, 5.0, 4.8]
const P60_CORE_FE5270 = [2.8, 2.9, 2.75, 3.0, 2.95, 3.1, 3.15, 3.35, 3.4, 3.05, 2.9, 2.8, 2.7, 2.6, 2.55, 2.5]
const P60_CORE_FE5335 = [2.5, 2.65, 2.45, 2.75, 2.6, 2.85, 2.9, 3.15, 3.2, 2.9, 2.7, 2.75, 2.55, 2.65, 2.5, 2.55]
const P60_CORE_FE5406 = [1.6, 1.65, 1.55, 1.75, 1.7, 1.85, 1.9, 2.0, 2.05, 1.85, 1.7, 1.65, 1.6, 1.55, 1.6, 1.5]
const P60_CORE_FE5709 = [0.85, 0.92, 0.82, 0.98, 0.9, 1.02, 0.95, 1.05, 1.0, 0.92, 0.86, 0.9, 0.82, 0.88, 0.8, 0.85]
const P60_CORE_FE5782 = [0.85, 0.92, 0.88, 1.0, 0.95, 1.05, 1.1, 1.18, 1.15, 1.05, 0.9, 0.82, 0.88, 0.8, 0.85, 0.78]
const P60_CORE_HB = [1.6, 1.75, 1.9, 1.65, 1.8, 1.7, 1.95, 1.75, 1.8, 1.65, 1.75, 1.6, 1.7, 1.55, 1.65, 1.6]

const P60_CHI_TOT = [1.48, 1.04, 0.89, 0.44, 1.6, 0.07, 0.6, 0.5, 0.8, 0.4, 0.9, 0.5, 0.7, 0.95, 0.6, 0.85, 1.0, 0.7, 0.9, 0.5, 0.8, 0.45, 0.7, 0.6, 0.65, 0.55, 0.96, 0.7, 0.37, 0.5, 0.79, 0.8, 0.75, 0.52, 1.29]
const P60_CHI_MGB = [-0.22, -1.3, -2.67, -2.75, -0.4, -2.0, -3.5, -1.2, -3.5, -1.8, -3.5, -1.0, -3.5, -2.4, -3.5, -1.5, -2.0, -3.5, -1.2, -3.5, -2.6, -3.5, -1.4, -3.5, -2.0, -3.5, -1.5, -1.1, -1.4, -1.3, -1.8, -2.3, -1.6, -1.6, -2.4]
const P60_CHI_FE5015 = [0.6, 0.65, 0.5, 0.6, 1.55, -0.3, 0.1, -1.0, -0.2, -2.0, 0.3, -0.8, -3.5, 0.2, -1.4, 0.4, -0.5, 0.1, -2.5, 0.3, -0.6, -1.8, 0.0, -0.4, 0.2, -0.7, 0.4, -1.5, 0.7, 0.5, 0.7, 0.65, 0.6, 0.3, 1.14]
const P60_CHI_FE5270 = [-0.1, -0.5, -1.4, -2.44, -0.5, -1.0, -0.3, -2.0, -0.6, -1.5, -3.5, -0.8, -0.2, -1.9, -0.7, -3.5, -1.0, -0.4, -2.2, -0.9, -0.3, -1.6, -0.5, -2.6, -1.1, -0.8, -1.2, -0.6, -1.5, -1.3, -0.9, -0.8, -1.0, -0.9, -0.6]
const P60_CHI_FE5335 = [0.2, -0.3, -3.0, -0.5, -0.8, -2.5, -0.4, -1.2, -0.5, -3.5, -0.9, -0.3, -1.7, -3.5, -0.6, -1.1, -0.2, -2.2, -0.8, -0.4, -3.5, -0.7, -1.4, -0.3, -1.0, -0.6, -0.9, -2.0, -0.4, -1.0, -0.6, -1.0, -0.7, -0.3, -1.0]
const P60_CHI_FE5406 = [0.0, -0.75, -1.25, -0.9, -0.4, -1.1, -0.6, -1.7, -1.0, -0.4, -2.3, -0.7, -1.3, -0.3, -2.0, -0.9, -0.5, -1.5, -0.7, -3.0, -0.4, -1.2, -0.8, -0.5, -1.6, -1.0, -0.5, -0.7, -1.1, -0.6, -0.8, -0.5, -0.6, -0.9, -0.6]
const P60_CHI_FE5709 = [1.04, 0.52, -1.04, -0.2, 0.1, -0.1, 0.3, -0.5, 0.2, -0.8, 0.5, 0.0, 0.7, -0.3, 0.6, 0.2, 0.9, 0.4, -0.6, 0.5, 0.1, -1.5, 0.3, -0.2, 0.4, 0.0, -0.5, -1.0, -0.3, -0.4, -0.7, -0.7, -0.7, -0.7, 0.07]
const P60_CHI_FE5782 = [0.52, 0.15, -0.3, -2.37, 0.8, -3.5, 0.3, -0.5, 0.4, -1.0, 0.6, -0.2, 0.5, -3.5, 0.7, 0.1, 0.4, -0.6, 0.5, -2.5, 0.3, 0.0, -1.2, 0.5, -0.3, -0.7, -1.8, -0.3, -0.2, -0.1, 0.0, 0.37, -0.2, -0.3, 0.37]
const P60_CHI_HB = [0.67, -1.2, -0.9, -0.6, 0.07, -1.26, -0.9, -2.0, -3.5, -1.2, -3.5, -0.8, -3.5, -1.6, -3.5, -1.0, -2.2, -3.5, -1.3, -3.5, -0.9, -2.8, -1.5, -3.5, -1.8, -1.4, -1.1, -3.5, -1.4, -0.3, -0.9, -1.55, -1.8, -2.07, -1.04]

const COLUMNS = [
  {
    r: M60_R,
    obs: [M60_MGB, M60_FE5015, M60_FE5270, M60_FE5335, M60_FE5406, M60_FE5709, M60_FE5782, M60_HB],
    err: [M60_MGB_ERR, M60_FE5015_ERR, M60_FE5270_ERR, M60_FE5335_ERR, M60_FE5406_ERR, M60_FE5709_ERR, M60_FE5782_ERR, M60_HB_ERR],
    fit: [M60_MGB_FIT, M60_FE5015_FIT, M60_FE5270_FIT, M60_FE5335_FIT, M60_FE5406_FIT, M60_FE5709_FIT, M60_FE5782_FIT, M60_HB_FIT],
    core: [M60_CORE_MGB, M60_CORE_FE5015, M60_CORE_FE5270, M60_CORE_FE5335, M60_CORE_FE5406, M60_CORE_FE5709, M60_CORE_FE5782, M60_CORE_HB],
    chi: [M60_CHI_MGB, M60_CHI_FE5015, M60_CHI_FE5270, M60_CHI_FE5335, M60_CHI_FE5406, M60_CHI_FE5709, M60_CHI_FE5782, M60_CHI_HB],
    chiTot: M60_CHI_TOT,
  },
  {
    r: MN_R,
    obs: [MN_MGB, MN_FE5015, MN_FE5270, MN_FE5335, MN_FE5406, MN_FE5709, MN_FE5782, MN_HB],
    err: [MN_MGB_ERR, MN_FE5015_ERR, MN_FE5270_ERR, MN_FE5335_ERR, MN_FE5406_ERR, MN_FE5709_ERR, MN_FE5782_ERR, MN_HB_ERR],
    fit: [MN_MGB_FIT, MN_FE5015_FIT, MN_FE5270_FIT, MN_FE5335_FIT, MN_FE5406_FIT, MN_FE5709_FIT, MN_FE5782_FIT, MN_HB_FIT],
    core: [MN_CORE_MGB, MN_CORE_FE5015, MN_CORE_FE5270, MN_CORE_FE5335, MN_CORE_FE5406, MN_CORE_FE5709, MN_CORE_FE5782, MN_CORE_HB],
    chi: [MN_CHI_MGB, MN_CHI_FE5015, MN_CHI_FE5270, MN_CHI_FE5335, MN_CHI_FE5406, MN_CHI_FE5709, MN_CHI_FE5782, MN_CHI_HB],
    chiTot: MN_CHI_TOT,
  },
  {
    r: P60_R,
    obs: [P60_MGB, P60_FE5015, P60_FE5270, P60_FE5335, P60_FE5406, P60_FE5709, P60_FE5782, P60_HB],
    err: [P60_MGB_ERR, P60_FE5015_ERR, P60_FE5270_ERR, P60_FE5335_ERR, P60_FE5406_ERR, P60_FE5709_ERR, P60_FE5782_ERR, P60_HB_ERR],
    fit: [P60_MGB_FIT, P60_FE5015_FIT, P60_FE5270_FIT, P60_FE5335_FIT, P60_FE5406_FIT, P60_FE5709_FIT, P60_FE5782_FIT, P60_HB_FIT],
    core: [P60_CORE_MGB, P60_CORE_FE5015, P60_CORE_FE5270, P60_CORE_FE5335, P60_CORE_FE5406, P60_CORE_FE5709, P60_CORE_FE5782, P60_CORE_HB],
    chi: [P60_CHI_MGB, P60_CHI_FE5015, P60_CHI_FE5270, P60_CHI_FE5335, P60_CHI_FE5406, P60_CHI_FE5709, P60_CHI_FE5782, P60_CHI_HB],
    chiTot: P60_CHI_TOT,
  },
]

const pts = (r: number[], ys: number[], es?: number[]) =>
  r.map((x, i) => (es ? { r: x, y: ys[i], e: es[i] } : { r: x, y: ys[i] }))

const fmt = (v: number) => {
  const s = String(Math.abs(Math.round(v * 100) / 100))
  return v < 0 ? '\u2212' + s : s
}

const isLabelled = (row: number, v: number) => Y_LABELS[row].some((l) => Math.abs(l - v) < 1e-6)

function yTicks(row: number) {
  const step = Y_MINOR[row]
  const out: number[] = []
  for (let k = Math.ceil(Y_LO[row] / step - 1e-6); k * step <= Y_HI[row] + 1e-6; k++) {
    out.push(Math.round(k * step * 1000) / 1000)
  }
  return out
}

// inward tick marks on all four sides, as short segments in data units
function tickSegments(row: number) {
  const lo = Y_LO[row]
  const hi = Y_HI[row]
  const perPxY = (hi - lo) / PH
  const perPxX = (X_DOMAIN[1] - X_DOMAIN[0]) / PW
  const segs: { x: number; y: number }[][] = []
  X_TICKS.forEach((t) => {
    const d = (X_LABELS.includes(t) ? 10 : 5) * perPxY
    segs.push([{ x: t, y: lo }, { x: t, y: lo + d }])
    segs.push([{ x: t, y: hi }, { x: t, y: hi - d }])
  })
  yTicks(row).forEach((v) => {
    const d = (isLabelled(row, v) ? 10 : 6) * perPxX
    segs.push([{ x: X_DOMAIN[0], y: v }, { x: X_DOMAIN[0] + d, y: v }])
    segs.push([{ x: X_DOMAIN[1], y: v }, { x: X_DOMAIN[1] - d, y: v }])
  })
  return segs
}

function XLabel(props: any) {
  const { x, y, payload, showLabel } = props
  if (!showLabel || !X_LABELS.includes(payload.value)) return <g />
  return (
    <text x={x} y={y + 37} textAnchor="middle" fontSize={24} fill="#000">{fmt(payload.value)}</text>
  )
}

function YLabel(props: any) {
  const { x, y, payload, row, showLabel } = props
  if (!showLabel || !isLabelled(row, payload.value)) return <g />
  return (
    <text x={x - 20} y={y} dy="0.36em" textAnchor="end" fontSize={23} fill="#000">{fmt(payload.value)}</text>
  )
}

// the × marker used for the measured points
function Cross(props: any) {
  const { cx, cy } = props
  if (cx == null || cy == null) return null
  const s = 3.8
  return (
    <path
      d={`M${cx - s},${cy - s}L${cx + s},${cy + s}M${cx - s},${cy + s}L${cx + s},${cy - s}`}
      stroke="#000"
      strokeWidth={2}
    />
  )
}

function Panel({ col, row }: { col: number; row: number }) {
  const c = COLUMNS[col]
  const isLeft = col === 0
  const isBottom = row === 8
  const yAxisW = isLeft ? X0 : 0
  const xAxisH = isBottom ? LABEL_H : 0
  const lo = Y_LO[row]
  const hi = Y_HI[row]

  return (
    <div style={{ position: 'absolute', left: isLeft ? -M : X0 + col * PW - M, top: Y0 + row * PH - M }}>
      <ComposedChart
        width={yAxisW + PW + 2 * M}
        height={PH + xAxisH + 2 * M}
        margin={{ top: M, right: M, bottom: M, left: M }}
      >
        <XAxis
          dataKey="r"
          type="number"
          domain={X_DOMAIN}
          allowDataOverflow
          ticks={X_TICKS}
          interval={0}
          tickSize={0}
          tickMargin={0}
          axisLine={false}
          tickLine={false}
          height={xAxisH}
          tick={(p: any) => <XLabel {...p} showLabel={isBottom} />}
          label={isBottom ? { value: 'r [arcsec]', position: 'insideBottom', offset: 8, fontSize: 26, fill: '#000' } : undefined}
        />
        <YAxis
          dataKey="y"
          type="number"
          domain={[lo, hi]}
          allowDataOverflow
          ticks={yTicks(row)}
          interval={0}
          tickSize={0}
          tickMargin={0}
          axisLine={false}
          tickLine={false}
          width={yAxisW}
          tick={(p: any) => <YLabel {...p} row={row} showLabel={isLeft} />}
        />
        <ReferenceLine x={-R_EFF} stroke="#000" strokeWidth={1.5} strokeDasharray="2 3" />
        <ReferenceLine x={R_EFF} stroke="#000" strokeWidth={1.5} strokeDasharray="2 3" />
        {isBottom ? <ReferenceLine y={CHI_LEVEL} stroke="#000" strokeWidth={1.5} strokeDasharray="14 9" /> : null}

        {!isBottom ? (
          <Scatter data={pts(c.r, c.obs[row], c.err[row])} dataKey="y" shape={Cross} isAnimationActive={false}>
            <ErrorBar dataKey="e" direction="y" width={5} stroke="#000" strokeWidth={1.9} />
          </Scatter>
        ) : null}
        {!isBottom ? (
          <Scatter data={pts(CORE_R, c.core[row], CORE_ERR[row])} dataKey="y" shape={Cross} isAnimationActive={false}>
            <ErrorBar dataKey="e" direction="y" width={5} stroke="#000" strokeWidth={1.9} />
          </Scatter>
        ) : null}
        {!isBottom ? (
          <Line
            data={pts(c.r, c.fit[row])}
            dataKey="y"
            stroke={ROW_COLORS[row]}
            strokeWidth={2.2}
            strokeDasharray={ROW_DASHED[row] ? '9 4' : undefined}
            dot={false}
            isAnimationActive={false}
          />
        ) : null}

        {isBottom
          ? c.chi.map((ys, k) => (
              <Line
                key={k}
                data={pts(c.r, ys)}
                dataKey="y"
                stroke={ROW_COLORS[k]}
                strokeWidth={1.8}
                strokeDasharray={ROW_DASHED[k] ? '9 4' : undefined}
                dot={false}
                isAnimationActive={false}
              />
            ))
          : null}
        {isBottom ? (
          <Line data={pts(c.r, c.chiTot)} dataKey="y" stroke="#000" strokeWidth={1.8} dot={false} isAnimationActive={false} />
        ) : null}

        {tickSegments(row).map((s, i) => (
          <ReferenceLine key={'t' + i} segment={s} stroke="#000" strokeWidth={2} ifOverflow="visible" />
        ))}
        <ReferenceArea x1={X_DOMAIN[0]} x2={X_DOMAIN[1]} y1={lo} y2={hi} fill="none" stroke="#000" strokeWidth={2} ifOverflow="visible" />
      </ComposedChart>
    </div>
  )
}

export default function App() {
  const rows = [0, 1, 2, 3, 4, 5, 6, 7, 8]
  return (
    <div style={{ position: 'relative', width: 846, height: 1112, background: '#fff', fontFamily: '"DejaVu Serif", serif', overflow: 'hidden' }}>
      <style>{'body{margin:0}'}</style>
      {MODELS.map((m, col) => (
        <div
          key={m}
          style={{ position: 'absolute', left: X0 + col * PW, width: PW, top: 0, lineHeight: '26px', textAlign: 'center', fontSize: 23 }}
        >
          {m}
        </div>
      ))}
      {rows.map((row) => (
        <div
          key={row}
          style={{
            position: 'absolute',
            left: 16,
            top: Y0 + row * PH + PH / 2,
            transform: 'translate(-50%, -50%) rotate(-90deg)',
            whiteSpace: 'nowrap',
            fontSize: 24,
            color: row < 8 ? ROW_COLORS[row] : '#000',
          }}
        >
          {row < 8 ? ROW_NAMES[row] : (<span>log χ<sup style={{ fontSize: 15 }}>2</sup></span>)}
        </div>
      ))}
      {rows.map((row) => MODELS.map((m, col) => <Panel key={m + row} col={col} row={row} />))}
    </div>
  )
}
